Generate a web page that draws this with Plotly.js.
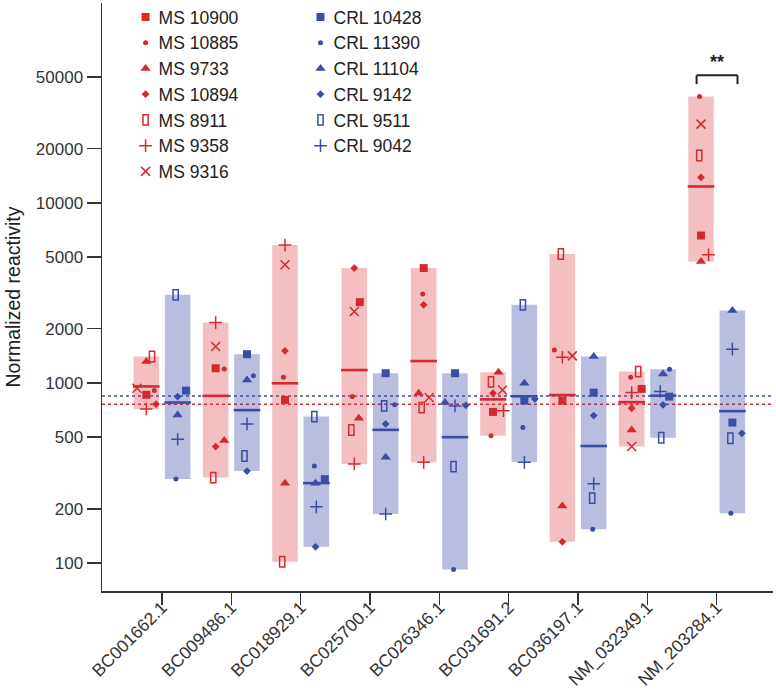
<!DOCTYPE html>
<html><head><meta charset="utf-8">
<script src="https://cdn.plot.ly/plotly-3.0.1.min.js"></script>
<style>html,body{margin:0;padding:0;background:#fff}</style>
</head><body>
<div id="chart" style="width:776px;height:696px"></div>
<script>
// ---------- data ----------
const categories = ["BC001662.1","BC009486.1","BC018929.1","BC025700.1","BC026346.1","BC031691.2","BC036197.1","NM_032349.1","NM_203284.1"];

const msNames  = ["MS 10900","MS 10885","MS 9733","MS 10894","MS 8911","MS 9358","MS 9316"];
const ms10900 = [858, 1206, 804, 2807, 4340, 690, 797, 926, 6580];
const ms10885 = [906, 1196, 1075, 839, 3119, 508, 1525, 1075, 38980];
const ms9733  = [1313, 478, 277, 636, 877, 1146, 207, 548, 4720];
const ms10894 = [762, 443, 1506, 4340, 2712, 877, 131, 723, 13830];
const ms8911  = [1400, 298, 101.6, 548, 729, 1013, 5200, 1155, 18320];
const ms9358  = [717, 2161, 5822, 355, 362, 701, 1389, 883, 5140];
const ms9316  = [934, 1591, 4526, 2489, 829, 914, 1413, 443, 27350];

const crlNames = ["CRL 10428","CRL 11390","CRL 11104","CRL 9142","CRL 9511","CRL 9042"];
const crl10428 = [906, 1443, 292, 1132, 1132, 797, 883, 839, 602];
const crl11390 = [293, 1094, 346, 755, 92, 565, 154, 1191, 189];
const crl11104 = [664, 1039, 277, 387, 777, 996, 1400, 1122, 2522];
const crl9142  = [839, 324, 123, 592, 751, 815, 658, 755, 525];
const crl9511  = [3083, 393, 650, 745, 343, 2712, 229, 496, 493];
const crl9042  = [486, 592, 205, 187, 745, 362, 275, 895, 1539];

const refLineMS = 760;    // red dotted reference
const refLineCRL = 845;   // blue dotted reference
const yTickValues = [100, 200, 500, 1000, 2000, 5000, 10000, 20000, 50000];
const sigLabel = "**";

// horizontal jitter of points inside a bar (pixels)
const msJitter = [
  [0, 0, 0, 5.5, 0, 0, 0, 10, 0],
  [8, 8.6, -1.5, -2, -1, -2, -8, -1, -1.5],
  [0, 8.6, 0, 4.5, -5, 5.5, 0, 0, 0],
  [9.7, 0, 0, 0, 0, 0, 0, 0, 0],
  [5.7, -2.4, -2.8, -3, -2, -2, -1.5, 6.5, -1.8],
  [0, 0, 0, 0, 0, 10.5, 0, 0, 7.5],
  [-9.3, 0, 0, 0, 5.5, 9.5, 10, 0, 0]
];
const crlJitter = [
  [8.3, 0, 8.5, 0, 0, 0, 0, 6.2, 0],
  [-1.7, 6.5, -2, 9, -1.5, -1.5, -1, 6.5, -1.5],
  [0, 0, -0.8, 0, -10, 0, 0, 0, 0],
  [0, 0, -0.8, 0, 10.8, 10.5, 0, 0, 9.5],
  [-2, -2.5, -2, -1.5, -1.5, -1.5, -1.5, -1.8, -2],
  [0, 0, 0, 0, 0, 0, 0, -2.8, 0]
];

// ---------- styles ----------
const RED = "#d42a2f", BLUE = "#3a4ea6";
const RED_BAR = "rgba(222,60,64,0.33)", BLUE_BAR = "rgba(60,72,165,0.36)";
const symbols = ["square","circle","triangle-up","diamond","square-open","cross-thin-open","x-thin-open"];
const sizes   = [8, 5, 9, 6, 7.9, 9, 9];
const PX_PER_CAT = 69.375;
const SHIFT = 0.226, BAR_W = 0.368;
const FONT = "Liberation Sans, Arial, Helvetica, sans-serif";

const msSeries = [ms10900, ms10885, ms9733, ms10894, ms8911, ms9358, ms9316];
const crlSeries = [crl10428, crl11390, crl11104, crl9142, crl9511, crl9042];
const idx = categories.map((_, i) => i);

function stats(series) {
  const mins = [], spans = [], gm = [];
  idx.forEach(i => {
    const v = series.map(s => s[i]);
    const mn = Math.min(...v), mx = Math.max(...v);
    mins.push(mn); spans.push(mx - mn);
    gm.push(Math.pow(10, v.reduce((a, b) => a + Math.log10(b), 0) / v.length));
  });
  return {mins, spans, gm};
}

const traces = [];
function addGroup(series, color, barColor, sign) {
  const st = stats(series);
  traces.push({type: "bar", x: idx, base: st.mins, y: st.spans, width: BAR_W,
    offset: sign * SHIFT - BAR_W / 2, marker: {color: barColor, line: {width: 0}},
    showlegend: false, hoverinfo: "skip"});
  traces.push({type: "scatter", mode: "markers", x: idx.map(i => i + sign * SHIFT), y: st.gm,
    marker: {symbol: "line-ew", size: 19, color: color, line: {color: color, width: 2.6}},
    showlegend: false, hoverinfo: "skip"});
}
function addPoints(series, names, jitter, color, sign, legendId) {
  series.forEach((s, k) => {
    const open = symbols[k].indexOf("open") >= 0;
    traces.push({type: "scatter", mode: "markers", name: names[k], legend: legendId,
      x: idx.map(i => i + sign * SHIFT + jitter[k][i] / PX_PER_CAT), y: s,
      marker: {symbol: symbols[k], size: sizes[k], color: color,
        line: {color: color, width: open ? 1.5 : 0}}});
  });
}
addGroup(msSeries, RED, RED_BAR, -1);
addGroup(crlSeries, BLUE, BLUE_BAR, 1);
addPoints(msSeries, msNames, msJitter, RED, -1, "legend");
addPoints(crlSeries, crlNames, crlJitter, BLUE, 1, "legend2");

const last = categories.length - 1;
const bracketTop = 51000, bracketLeg = 45600;
const shapes = [
  {type: "line", xref: "paper", x0: 0, x1: 1, yref: "y", y0: refLineCRL, y1: refLineCRL, layer: "below",
   line: {color: BLUE, width: 1.5, dash: "dot"}},
  {type: "line", xref: "paper", x0: 0, x1: 1, yref: "y", y0: refLineMS, y1: refLineMS, layer: "below",
   line: {color: RED, width: 1.5, dash: "dot"}},
  {type: "line", xref: "x", yref: "y", x0: last - 0.29, x1: last + 0.3, y0: bracketTop, y1: bracketTop, line: {color: "#222", width: 2}},
  {type: "line", xref: "x", yref: "y", x0: last - 0.29, x1: last - 0.29, y0: bracketTop, y1: bracketLeg, line: {color: "#222", width: 2}},
  {type: "line", xref: "x", yref: "y", x0: last + 0.3, x1: last + 0.3, y0: bracketTop, y1: bracketLeg, line: {color: "#222", width: 2}}
];

const axisCommon = {ticks: "outside", tickwidth: 1.5, tickcolor: "#333", showline: true,
  linecolor: "#333", linewidth: 1.5, showgrid: false, zeroline: false};

const legendCommon = {xanchor: "left", y: 1, yanchor: "top", bgcolor: "rgba(0,0,0,0)",
  font: {family: FONT, size: 17.5, color: "#222"}, itemwidth: 30, tracegroupgap: 0};

const layout = {
  width: 776, height: 696,
  margin: {l: 102, r: 3, t: 3, b: 105, pad: 0},
  paper_bgcolor: "#fff", plot_bgcolor: "#fff",
  font: {family: FONT, color: "#222", size: 17},
  barmode: "overlay",
  showlegend: true,
  xaxis: Object.assign({}, axisCommon, {range: [-0.865, 8.812], tickmode: "array",
    tickvals: idx, ticktext: categories, tickangle: -45, ticklen: 12, ticklabelstandoff: -14,
    tickfont: {family: FONT, size: 17.5, color: "#333"}}),
  yaxis: Object.assign({}, axisCommon, {type: "log", range: [1.8444, 5.1094], tickmode: "array",
    tickvals: yTickValues, ticktext: yTickValues.map(String), ticklen: 14,
    tickfont: {family: FONT, size: 17, color: "#333"},
    title: {text: "Normalized reactivity", font: {family: FONT, size: 19.5, color: "#222"}, standoff: 10}}),
  legend: Object.assign({}, legendCommon, {x: 0.0247}),
  legend2: Object.assign({}, legendCommon, {x: 0.2854}),
  shapes: shapes,
  annotations: [{xref: "x", yref: "y", x: last, y: Math.log10(bracketTop), yanchor: "bottom",
    text: "<b>" + sigLabel + "</b>", showarrow: false, yshift: 1,
    font: {family: FONT, size: 18, color: "#222"}}]
};

const LEGEND_LIFT = 4; // px
function reshape() {
  const target = "M3.95,3.95H-3.95V-3.95H3.95Z";
  document.querySelectorAll("#chart path").forEach(p => {
    if (p.getAttribute("d") === target) p.setAttribute("d", "M2.6,5.2H-2.6V-5.2H2.6Z");
  });
  document.querySelectorAll("#chart .legendpoints path.scatterpts").forEach(p => p.setAttribute("transform", "translate(27,0)"));
  document.querySelectorAll("#chart g.legend, #chart g.legend2").forEach(g => {
    const t = g.getAttribute("transform") || "";
    if (t === g.dataset.lifted) return;
    const m = t.match(/translate\(\s*([-\d.e]+)[ ,]+([-\d.e]+)\s*\)/);
    if (!m) return;
    const nt = "translate(" + m[1] + "," + (parseFloat(m[2]) - LEGEND_LIFT) + ")";
    g.setAttribute("transform", nt);
    g.dataset.lifted = nt;
  });
}
const gd = document.getElementById("chart");
Plotly.newPlot(gd, traces, layout, {displayModeBar: false, staticPlot: true}).then(() => {
  reshape();
  gd.on && gd.on("plotly_afterplot", reshape);
  setTimeout(reshape, 50);
});
</script>
</body></html>
